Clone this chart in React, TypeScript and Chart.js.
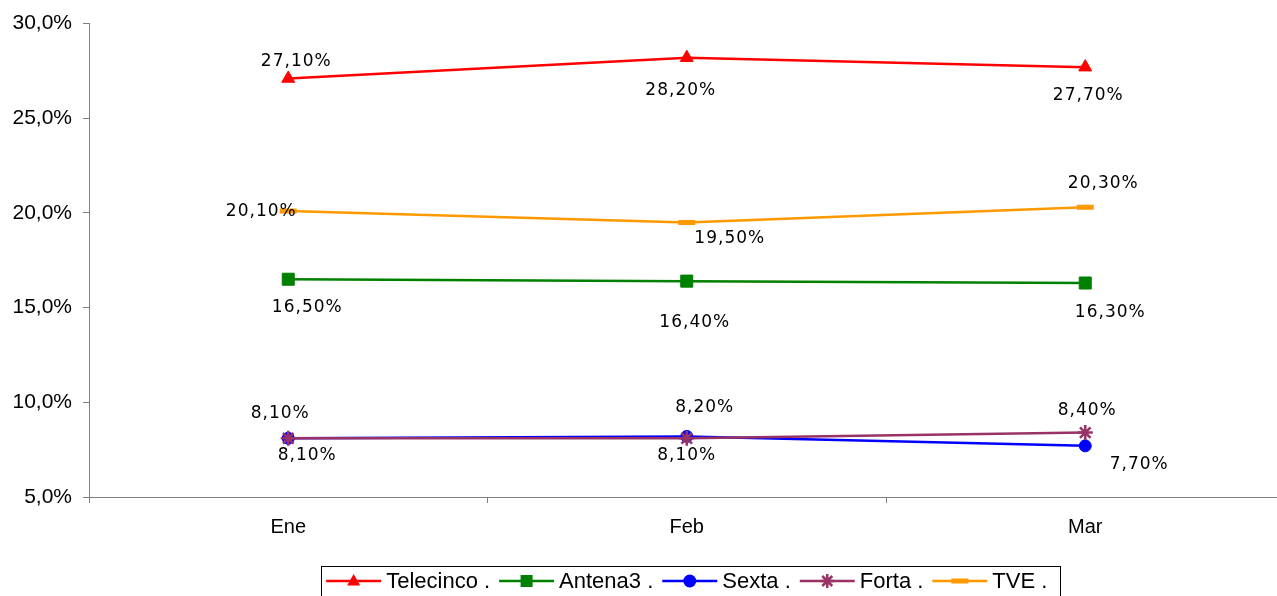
import React, { useEffect, useRef } from 'react';
import { Chart, registerables } from 'chart.js';

Chart.register(...registerables);

// ---- data ----
const months = ['Ene', 'Feb', 'Mar'];
const seriesNames = ['Telecinco .', 'Antena3 .', 'Sexta .', 'Forta .', 'TVE .'];
const telecinco = [27.1, 28.2, 27.7];
const antena3 = [16.5, 16.4, 16.3];
const sexta = [8.1, 8.2, 7.7];
const forta = [8.1, 8.1, 8.4];
const tve = [20.1, 19.5, 20.3];
const yMin = 5;
const yMax = 30;
const yStep = 5;

// ---- styles (not data) ----
const colors = ['#FF0000', '#008000', '#0000FF', '#993366', '#FF9900'];
const markers = ['triangle', 'rect', 'circle', 'star', 'line'];
const markerRadius = [7.5, 8.5, 6, 7.5, 8.5];
const markerBorder = [1, 1, 1, 2.5, 5];
// label offsets from the point (dx, dy) in px, per series / per month
const labelOffsets = [
  [[8, -17], [-6, 33], [3, 28]],
  [[19, 28], [8, 41], [25, 30]],
  [[19, 17], [18, -29], [54, 19]],
  [[-8, -25], [0, 17], [2, -22]],
  [[-27, 1], [43, 16], [18, -24]],
];

const fmtLabel = (v: number) => v.toFixed(2).replace('.', ',') + '%';
const fmtTick = (v: number) => v.toFixed(1).replace('.', ',') + '%';

const dataLabelPlugin = {
  id: 'dataLabels',
  afterDatasetsDraw(chart: any) {
    const ctx = chart.ctx;
    ctx.save();
    ctx.font = '17px "DejaVu Sans", Verdana, sans-serif';
    ctx.fillStyle = '#000';
    ctx.textAlign = 'center';
    ctx.textBaseline = 'middle';
    try { (ctx as any).letterSpacing = '1px'; } catch (e) {}
    chart.data.datasets.forEach((ds: any, i: number) => {
      const meta = chart.getDatasetMeta(i);
      meta.data.forEach((el: any, j: number) => {
        const off = labelOffsets[i][j];
        ctx.fillText(fmtLabel(ds.data[j]), el.x + off[0], el.y + off[1]);
      });
    });
    try { (ctx as any).letterSpacing = '0px'; } catch (e) {}
    ctx.restore();
  },
};

function drawMarker(ctx: CanvasRenderingContext2D, kind: string, x: number, y: number, color: string) {
  ctx.save();
  ctx.fillStyle = color;
  ctx.strokeStyle = color;
  if (kind === 'triangle') {
    ctx.beginPath();
    ctx.moveTo(x, y - 7);
    ctx.lineTo(x + 6.5, y + 4.5);
    ctx.lineTo(x - 6.5, y + 4.5);
    ctx.closePath();
    ctx.fill();
  } else if (kind === 'rect') {
    ctx.fillRect(x - 6, y - 6, 12, 12);
  } else if (kind === 'circle') {
    ctx.beginPath();
    ctx.arc(x, y, 6.5, 0, Math.PI * 2);
    ctx.fill();
  } else if (kind === 'star') {
    ctx.lineWidth = 2.5;
    ctx.beginPath();
    ctx.moveTo(x - 7, y); ctx.lineTo(x + 7, y);
    ctx.moveTo(x, y - 7); ctx.lineTo(x, y + 7);
    ctx.moveTo(x - 5, y - 5); ctx.lineTo(x + 5, y + 5);
    ctx.moveTo(x - 5, y + 5); ctx.lineTo(x + 5, y - 5);
    ctx.stroke();
  } else {
    ctx.fillRect(x - 8.5, y - 2.5, 17, 5);
  }
  ctx.restore();
}

const legendPlugin = {
  id: 'customLegend',
  afterDraw(chart: any) {
    const ctx = chart.ctx as CanvasRenderingContext2D;
    const area = chart.chartArea;
    ctx.save();
    ctx.font = '22px "Liberation Sans", Arial, sans-serif';
    ctx.textBaseline = 'middle';
    ctx.textAlign = 'left';
    const lineLen = 55;
    const gapText = 5;
    const gapItem = 9;
    const widths = seriesNames.map((n) => ctx.measureText(n).width);
    let total = 0;
    widths.forEach((w, i) => { total += lineLen + gapText + w + (i < widths.length - 1 ? gapItem : 0); });
    const cx = (area.left + area.right) / 2;
    let x = cx - total / 2;
    const boxLeft = x - 5;
    const boxRight = x + total + 13;
    const top = 566;
    const cy = 581;
    ctx.strokeStyle = '#000';
    ctx.lineWidth = 1;
    ctx.strokeRect(Math.round(boxLeft) + 0.5, top + 0.5, Math.round(boxRight - boxLeft), 40);
    seriesNames.forEach((n, i) => {
      ctx.strokeStyle = colors[i];
      ctx.lineWidth = 2.5;
      ctx.beginPath();
      ctx.moveTo(x, cy);
      ctx.lineTo(x + lineLen, cy);
      ctx.stroke();
      drawMarker(ctx, markers[i], x + lineLen / 2, cy, colors[i]);
      ctx.fillStyle = '#000';
      ctx.fillText(n, x + lineLen + gapText, cy + 1);
      x += lineLen + gapText + widths[i] + gapItem;
    });
    ctx.restore();
  },
};

export default function App() {
  const ref = useRef<HTMLCanvasElement | null>(null);
  useEffect(() => {
    if (!ref.current) return;
    const series = [telecinco, antena3, sexta, forta, tve];
    const chart = new Chart(ref.current, {
      type: 'line',
      data: {
        labels: months,
        datasets: series.map((d, i) => ({
          label: seriesNames[i],
          data: d,
          borderColor: colors[i],
          backgroundColor: colors[i],
          borderWidth: 2.5,
          pointStyle: markers[i] as any,
          pointRadius: markerRadius[i],
          pointBorderWidth: markerBorder[i],
          pointBackgroundColor: colors[i],
          pointBorderColor: colors[i],
          tension: 0,
          fill: false,
          order: 5 - i,
        })),
      },
      options: {
        responsive: false,
        maintainAspectRatio: false,
        devicePixelRatio: 1,
        animation: false,
        layout: { padding: { left: 0, right: 15.5, top: 23, bottom: 0 } },
        plugins: {
          legend: { display: false },
          tooltip: { enabled: false },
        },
        scales: {
          x: {
            type: 'category',
            offset: true,
            grid: {
              display: true,
              drawOnChartArea: false,
              offset: true,
              tickLength: 6,
              color: '#808080',
              lineWidth: 1,
            },
            border: { display: true, color: '#808080', width: 1 },
            ticks: {
              font: { family: '"Liberation Sans", Arial, sans-serif', size: 20 },
              color: '#000',
              padding: 12,
              maxRotation: 0,
              autoSkip: false,
            },
            afterFit: (s: any) => { s.height = 99; },
          },
          y: {
            min: yMin,
            max: yMax,
            grid: {
              display: true,
              drawOnChartArea: false,
              tickLength: 6,
              color: '#808080',
              lineWidth: 1,
            },
            border: { display: true, color: '#808080', width: 1 },
            ticks: {
              stepSize: yStep,
              callback: (v: any) => fmtTick(Number(v)),
              font: { family: '"Liberation Sans", Arial, sans-serif', size: 21 },
              color: '#000',
              padding: 11,
            },
            afterFit: (s: any) => { s.width = 89; },
          },
        },
      },
      plugins: [dataLabelPlugin, legendPlugin],
    });
    return () => chart.destroy();
  }, []);
  return (
    <div style={{ position: 'fixed', left: 0, top: 0, width: 1277, height: 596, overflow: 'hidden', background: '#fff' }}>
      <canvas ref={ref} width={1300} height={596} style={{ display: 'block' }} />
    </div>
  );
}
